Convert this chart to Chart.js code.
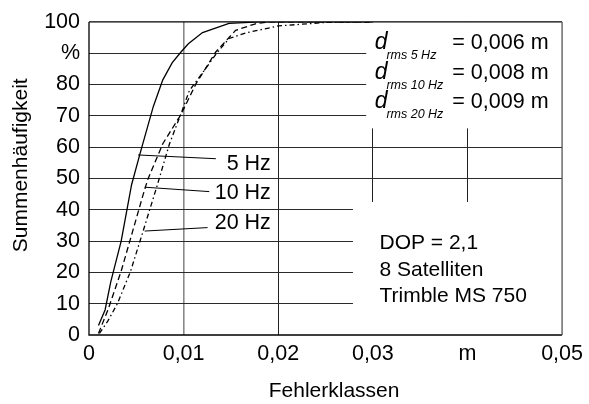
<!DOCTYPE html>
<html>
<head>
<meta charset="utf-8">
<script src="https://cdn.jsdelivr.net/npm/chart.js@4.4.1/dist/chart.umd.min.js"></script>
<style>
html,body{margin:0;padding:0;background:#fff;}
#wrap{width:589px;height:404px;position:relative;}
</style>
</head>
<body>
<div id="wrap"><canvas id="c" width="589" height="404"></canvas></div>
<script>
// ---- data ----
const xTickLabels = ['0', '0,01', '0,02', '0,03', 'm', '0,05'];
const yTickLabels = ['0', '10', '20', '30', '40', '50', '60', '70', '80', '%', '100'];

const x5Hz = [0.001, 0.0017, 0.0023, 0.0034, 0.0045, 0.0054, 0.0068, 0.0078, 0.0088, 0.0097, 0.0105, 0.012, 0.0148, 0.018, 0.03];
const y5Hz = [3, 8, 17, 30, 48, 58, 73, 81.5, 87, 90.3, 93, 96.6, 99.5, 100, 100];

const x10Hz = [0.001, 0.002, 0.0034, 0.0046, 0.0057, 0.0062, 0.0078, 0.0097, 0.0113, 0.0134, 0.0155, 0.0176, 0.019, 0.03];
const y10Hz = [0.5, 8, 20.4, 33, 44.6, 49.6, 61.1, 70.3, 80.2, 90.4, 97.3, 99.4, 100, 100];

const x20Hz = [0.0011, 0.002, 0.003, 0.0044, 0.0057, 0.0072, 0.0085, 0.0097, 0.0106, 0.0117, 0.0135, 0.0148, 0.0166, 0.02, 0.0253, 0.028, 0.03];
const y20Hz = [0.5, 4.5, 10, 20.4, 33, 47.7, 61, 70.5, 78, 82.5, 90, 94.7, 96.5, 98.7, 99.9, 100, 100];

const seriesNames = ['5 Hz', '10 Hz', '20 Hz'];
const rmsSubs = ['rms 5 Hz', 'rms 10 Hz', 'rms 20 Hz'];
const rmsValues = ['= 0,006 m', '= 0,008 m', '= 0,009 m'];
const infoLines = ['DOP = 2,1', '8 Satelliten', 'Trimble MS 750'];

const FONT = '"Liberation Sans", Arial, sans-serif';

function pts(xs, ys) { return xs.map((x, i) => ({ x: x, y: ys[i] })); }

// annotation layout (in data units)
const labelAnchors = [ // curve point, leader end, label right/center
  { from: [0.00518, 57.5], to: [0.01341, 56.3], text: [0.01922, 54.5] },
  { from: [0.00588, 47.2], to: [0.01271, 45.8], text: [0.01922, 45.4] },
  { from: [0.00588, 33.2], to: [0.01253, 34.3], text: [0.01922, 35.6] }
];

const overlay = {
  id: 'overlay',
  beforeDatasetsDraw(chart) {
    const ctx = chart.ctx, xs = chart.scales.x, ys = chart.scales.y, a = chart.chartArea;
    ctx.save();
    ctx.fillStyle = '#fff';
    // upper right text box
    let x0 = xs.getPixelForValue(0.0293), y1 = ys.getPixelForValue(66);
    ctx.fillRect(x0, a.top, a.right - x0, y1 - a.top);
    // lower right text box
    x0 = xs.getPixelForValue(0.0279);
    let y0 = ys.getPixelForValue(42.5);
    ctx.fillRect(x0, y0, a.right - x0, a.bottom - y0);
    // frame
    ctx.lineWidth = 1.3;
    ctx.strokeStyle = '#000';
    ctx.beginPath();
    ctx.moveTo(a.left, a.top); ctx.lineTo(a.left, a.bottom); ctx.lineTo(a.right, a.bottom);
    ctx.moveTo(a.left, a.top); ctx.lineTo(a.right, a.top);
    ctx.stroke();
    ctx.strokeStyle = '#555';
    ctx.beginPath();
    ctx.moveTo(a.right, a.top); ctx.lineTo(a.right, a.bottom);
    ctx.stroke();
    ctx.restore();
  },
  afterDraw(chart) {
    const ctx = chart.ctx, xs = chart.scales.x, ys = chart.scales.y, a = chart.chartArea;
    const px = v => xs.getPixelForValue(v), py = v => ys.getPixelForValue(v);
    ctx.save();
    ctx.fillStyle = '#000';
    ctx.strokeStyle = '#000';
    ctx.lineWidth = 1;
    // series labels with leader lines
    labelAnchors.forEach((l, i) => {
      ctx.beginPath();
      ctx.moveTo(px(l.from[0]), py(l.from[1]));
      ctx.lineTo(px(l.to[0]), py(l.to[1]));
      ctx.stroke();
      ctx.font = '21.5px ' + FONT;
      ctx.textAlign = 'right';
      ctx.textBaseline = 'middle';
      ctx.fillText(seriesNames[i], px(l.text[0]), py(l.text[1]));
    });
    // d_rms block
    const rmsBase = [91.2, 81.8, 72.6];
    ctx.textBaseline = 'alphabetic';
    rmsBase.forEach((b, i) => {
      const by = py(b);
      ctx.textAlign = 'left';
      ctx.font = 'italic 23px ' + FONT;
      ctx.fillText('d', px(0.0302), by);
      ctx.font = 'italic 12.5px ' + FONT;
      ctx.fillText(rmsSubs[i], px(0.03143), by + 10);
      ctx.font = '21.5px ' + FONT;
      ctx.fillText(rmsValues[i], px(0.0384), by);
    });
    // info block
    const infoBase = [27.5, 18.8, 10.4];
    ctx.font = '21px ' + FONT;
    infoBase.forEach((b, i) => {
      ctx.fillText(infoLines[i], px(0.0307), py(b));
    });
    // axis titles
    ctx.font = '21px ' + FONT;
    ctx.textAlign = 'center';
    ctx.textBaseline = 'middle';
    ctx.fillText('Fehlerklassen', px(0.0259), 391);
    ctx.save();
    ctx.translate(21, py(54.2));
    ctx.rotate(-Math.PI / 2);
    ctx.fillText('Summenhäufigkeit', 0, 0);
    ctx.restore();
    ctx.restore();
  }
};

const xGridColors = ['rgba(0,0,0,0)', '#8a8a8a', '#222', '#222', '#222', 'rgba(0,0,0,0)'];

new Chart(document.getElementById('c'), {
  type: 'line',
  data: {
    datasets: [
      { label: seriesNames[0], data: pts(x5Hz, y5Hz), borderColor: '#000', borderWidth: 1.3, pointRadius: 0, tension: 0, fill: false },
      { label: seriesNames[1], data: pts(x10Hz, y10Hz), borderColor: '#000', borderWidth: 1.3, borderDash: [6, 3.5], pointRadius: 0, tension: 0, fill: false },
      { label: seriesNames[2], data: pts(x20Hz, y20Hz), borderColor: '#000', borderWidth: 1.3, borderDash: [5, 3, 1.5, 3], pointRadius: 0, tension: 0, fill: false }
    ]
  },
  options: {
    responsive: false,
    animation: false,
    devicePixelRatio: 1,
    layout: { padding: { left: 0, right: 24, top: 17, bottom: 0 } },
    plugins: { legend: { display: false }, tooltip: { enabled: false }, title: { display: false } },
    scales: {
      x: {
        type: 'linear', min: 0, max: 0.05,
        afterBuildTicks(scale) {
          scale.ticks = xTickLabels.map((t, i) => ({ value: i * 0.01 }));
        },
        afterFit(scale) { scale.height = 69; },
        ticks: {
          callback: (v, i) => xTickLabels[i],
          font: { family: FONT, size: 21.5 },
          color: '#000', padding: 6, maxRotation: 0, autoSkip: false
        },
        grid: {
          drawTicks: false,
          color: ctx => xGridColors[ctx.index],
          lineWidth: ctx => ctx.index === 1 ? 1.6 : 1
        },
        border: { display: false }
      },
      y: {
        type: 'linear', min: 0, max: 100,
        afterBuildTicks(scale) {
          scale.ticks = yTickLabels.map((t, i) => ({ value: i * 10 }));
        },
        afterFit(scale) { scale.width = 89; },
        ticks: {
          callback: (v, i) => yTickLabels[i],
          font: { family: FONT, size: 21.5 },
          color: '#000', padding: 9, autoSkip: false
        },
        grid: {
          drawTicks: false,
          color: ctx => (ctx.index === 0 || ctx.index === 10) ? 'rgba(0,0,0,0)' : '#2a2a2a',
          lineWidth: 1
        },
        border: { display: false }
      }
    }
  },
  plugins: [overlay]
});
</script>
</body>
</html>
